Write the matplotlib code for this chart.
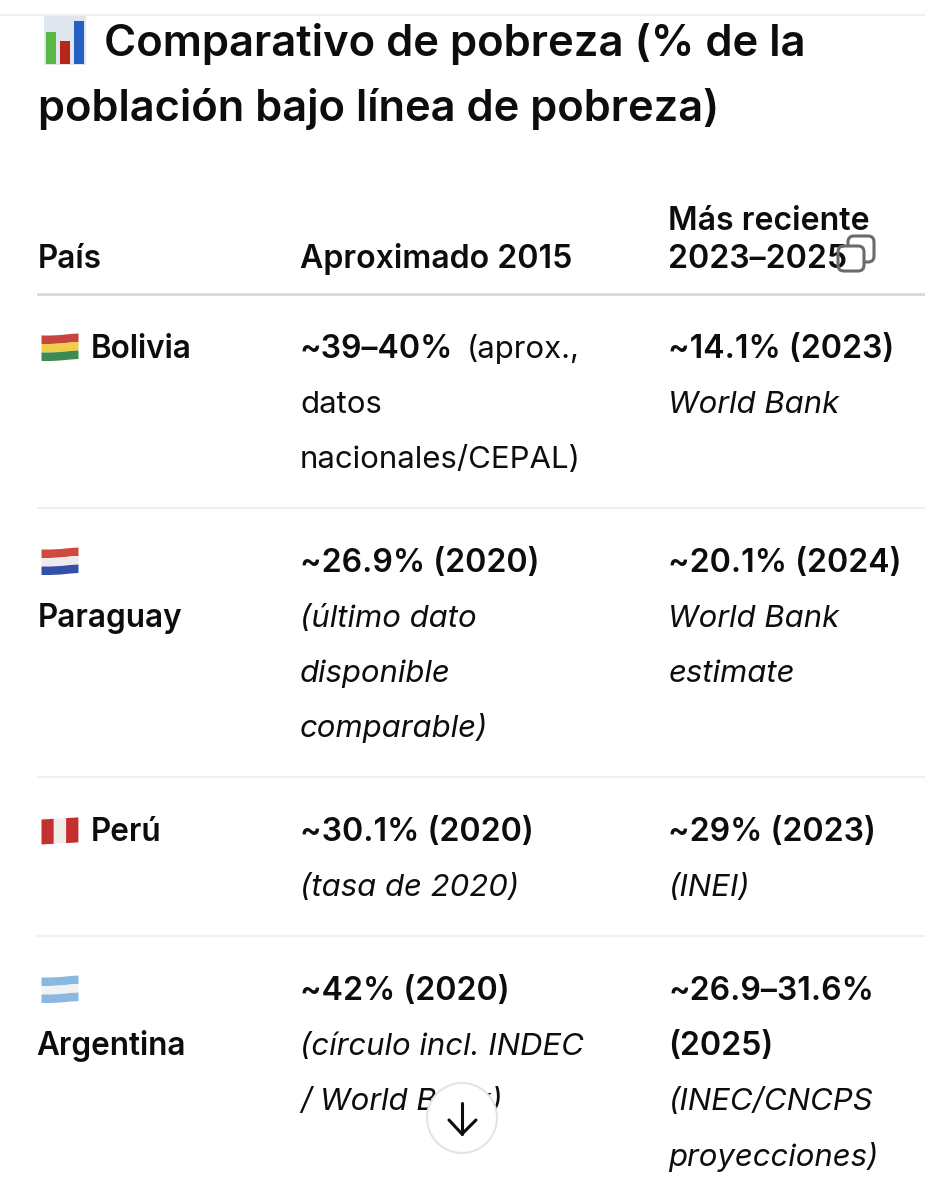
import matplotlib
matplotlib.use('Agg')
import matplotlib.pyplot as plt
from matplotlib.patches import Rectangle, Circle, FancyBboxPatch

plt.rcParams['font.family'] = ['Inter', 'DejaVu Sans']

title_lines = ['Comparativo de pobreza (% de la', 'población bajo línea de pobreza)']
headers = ['País', 'Aproximado 2015', 'Más reciente', '2023–2025']
countries = ['Bolivia', 'Paraguay', 'Perú', 'Argentina']
col2_bold = ['~39–40%', '~26.9% (2020)', '~30.1% (2020)', '~42% (2020)']
col2_notes = [['datos', 'nacionales/CEPAL)'],
              ['(último dato', 'disponible', 'comparable)'],
              ['(tasa de 2020)'],
              ['(círculo incl. INDEC', '/ World Bank)']]
col3_bold = [['~14.1% (2023)'], ['~20.1% (2024)'], ['~29% (2023)'], ['~26.9–31.6%', '(2025)']]
col3_notes = [['World Bank'], ['World Bank', 'estimate'], ['(INEI)'], ['(INEC/CNCPS', 'proyecciones)']]
flag_stripes = [['#c8453f', '#efcf4a', '#3f8a52'],
                ['#cf4a3e', '#ececf0', '#3350a8'],
                ['#c4302f', '#f0ecea', '#c4302f'],
                ['#8ab8e0', '#f0f2f4', '#8ab8e0']]
flag_x = [41, 50, 60, 70, 78]
flag_wave = [2, 2, 1.5, 0.5, 0]

FS = 22.4
FS_B = 23.1
FS_NAME = 22.7
TEXT = '#0d0d0d'
row_base = [358, 572, 841, 1000]
flag_top = [333, 547, 817, 975]
rules = [508, 777, 936]
X1, X2, X3 = 38, 300, 668.5
STEP = 55

fig = plt.figure(figsize=(9.25, 12), dpi=100)
ax = fig.add_axes([0, 0, 1, 1])
ax.set_xlim(0, 925)
ax.set_ylim(1200, 0)
ax.axis('off')


def txt(x, y, s, weight='normal', style='normal', size=FS, z=3):
    return ax.text(x, y, s, fontsize=size, fontweight=weight, fontstyle=style,
                   color=TEXT, va='baseline', ha='left', zorder=z)


def rbox(x, y, w, h, r, **kw):
    ax.add_patch(FancyBboxPatch((x + r, y + r), w - 2 * r, h - 2 * r,
                                boxstyle='round,pad=%s,rounding_size=%s' % (r, r), **kw))


def flag(top, colors, h=8.5):
    for i, c in enumerate(colors):
        y0 = [top + i * h + w for w in flag_wave]
        y1 = [v + h for v in y0]
        ax.fill_between(flag_x, y0, y1, color=c, lw=0)


def flag_vertical(top, colors, h=25):
    # vertical stripes, same wave along the top and bottom edge
    for i, c in enumerate(colors):
        xs = [41 + i * 12.3, 41 + (i + 1) * 12.3]
        ws = [2 - i * 0.7, 2 - (i + 1) * 0.7]
        ax.fill_between(xs, [top + w for w in ws], [top + h + w for w in ws], color=c, lw=0)


# top rule + title
ax.plot([0, 925], [14.5, 14.5], color='#efefef', lw=1.5)
ax.add_patch(Rectangle((44, 15), 42, 50, fc='#dfe6ee', ec='none'))
ax.add_patch(Rectangle((46, 32), 10, 32, fc='#58b947', ec='none'))
ax.add_patch(Rectangle((60, 41), 10, 23, fc='#b7261c', ec='none'))
ax.add_patch(Rectangle((74, 21), 10, 43, fc='#2560c4', ec='none'))
txt(104.5, 56, title_lines[0], weight='semibold', size=31.35)
txt(37.5, 121, title_lines[1], weight='semibold', size=31.3)

# header row
txt(X1, 268, headers[0], weight='semibold', size=FS_NAME)
txt(X2, 268, headers[1], weight='semibold', size=FS_B)
txt(X3, 230, headers[2], weight='semibold', size=FS_B)
txt(X3, 268, headers[3], weight='semibold', size=FS_B)
ax.plot([38, 925], [294, 294], color='#d9d9d9', lw=2)
for y in rules:
    ax.plot([38, 925], [y, y], color='#efefef', lw=1.5)

# copy icon, back square hidden behind the front one, digit shows through
rbox(848, 236, 26, 26, 6, fc='none', ec='#6b6b6b', lw=2.2, zorder=1)
rbox(838, 246, 26, 25, 6, fc='white', ec='none', zorder=2)
rbox(838, 246, 26, 25, 6, fc='none', ec='#6b6b6b', lw=2.2, zorder=4)

for i, name in enumerate(countries):
    base = row_base[i]
    # flag, name on same line or wrapped under it
    if name == 'Paraguay':
        txt(X1, base + STEP, name, weight='semibold', size=FS_NAME)
    elif name == 'Argentina':
        txt(X1 - 1.5, base + STEP, name, weight='semibold', size=FS_NAME)
    else:
        txt(91, base, name, weight='semibold', size=FS_NAME)
    if name == 'Perú':
        flag_vertical(flag_top[i], flag_stripes[i])
    else:
        flag(flag_top[i], flag_stripes[i])

    txt(X2, base, col2_bold[i], weight='semibold', size=FS_B)
    if name == 'Bolivia':
        txt(467, base, '(aprox.,')
        for k, s in enumerate(col2_notes[i]):
            txt(X2, base + STEP * (k + 1), s)
    else:
        for k, s in enumerate(col2_notes[i]):
            txt(X2, base + STEP * (k + 1), s, style='italic')

    for k, s in enumerate(col3_bold[i]):
        txt(X3, base + STEP * k, s, weight='semibold', size=FS_B)
    n = len(col3_bold[i])
    for k, s in enumerate(col3_notes[i]):
        txt(X3, base + STEP * (n + k) + (1 if n == 2 and k == 1 else 0), s, style='italic')

# scroll button
ax.add_patch(Circle((462, 1118), 35, fc='white', ec='#e4e4e4', lw=1.5, zorder=5))
ax.plot([462, 462], [1103, 1134], color='#0d0d0d', lw=2.2, zorder=6, solid_capstyle='round')
ax.plot([449, 462, 476], [1120, 1134, 1120], color='#0d0d0d', lw=2.2, zorder=6,
        solid_capstyle='round', solid_joinstyle='miter')

fig.savefig('out.png', dpi=100, facecolor='white')
